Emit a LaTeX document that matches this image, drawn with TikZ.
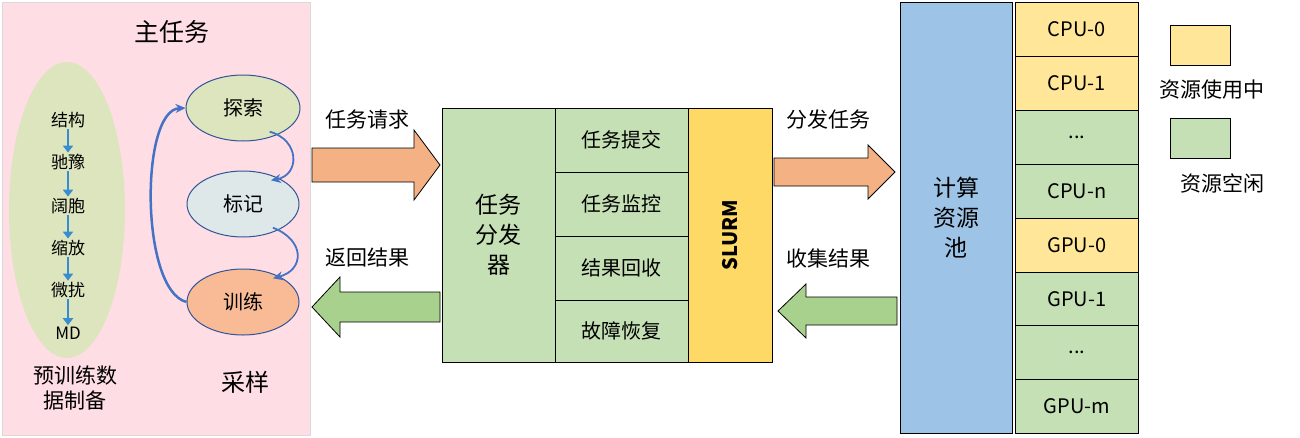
\documentclass[tikz,border=0pt]{standalone}
\usepackage{fontspec}
\setmainfont{Noto Sans CJK SC}
\usetikzlibrary{arrows.meta, positioning, shapes.geometric}
\definecolor{bgpink}{RGB}{255,221,228}
\definecolor{olive}{RGB}{221,229,190}
\definecolor{paleblue}{RGB}{222,232,232}
\definecolor{salmon}{RGB}{248,187,150}
\definecolor{boxgreen}{RGB}{197,224,180}
\definecolor{boxyellow}{RGB}{255,230,153}
\definecolor{slurmyellow}{RGB}{255,217,102}
\definecolor{poolblue}{RGB}{157,195,230}
\definecolor{navy}{RGB}{47,85,151}
\definecolor{arrblue}{RGB}{68,114,196}
\definecolor{orangearr}{RGB}{244,177,131}
\definecolor{greenarr}{RGB}{169,209,142}
\newcommand{\celldots}{...}

\begin{document}
\begin{tikzpicture}[x=1pt, y=-1pt,
    txt/.style={font=\fontsize{21}{25}\selectfont, align=center},
    small/.style={font=\fontsize{17}{20}\selectfont},
    oval/.style={ellipse, draw=navy, line width=1pt, minimum width=112pt, minimum height=66pt, font=\fontsize{20}{23}\selectfont},
    cell/.style={draw=black, line width=0.6pt, fill=boxgreen, minimum width=123pt, minimum height=53.9pt, font=\fontsize{20}{23}\selectfont},
    stage/.style={draw=black, line width=0.6pt, fill=boxgreen, minimum width=133pt, minimum height=63.5pt},
    flow/.style={-{Triangle[length=7pt,width=10pt]}, arrblue!80!cyan, line width=2pt},
    loop/.style={-{Stealth[length=10pt,width=9pt]}, arrblue, line width=1.8pt}]
    \useasboundingbox (0,0) rectangle (1300,437);

    % Main task panel
    \draw[gray!30, line width=1pt, fill=bgpink] (2,2) rectangle (310,435);
    \node[font=\fontsize{25}{29}\selectfont] (main) at (172,32) {主任务};

    % Pretraining data chain
    \node[ellipse, fill=olive, minimum width=116pt, minimum height=296pt] (prep) at (67,210) {};
    \node[small] (s1) at (68,120) {结构};
    \node[small] (s2) at (68,162) {驰豫};
    \node[small] (s3) at (68,206) {阔胞};
    \node[small] (s4) at (68,248) {缩放};
    \node[small] (s5) at (68,290) {微扰};
    \node[small] (s6) at (68,333) {MD};
    \foreach \a/\b in {s1/s2, s2/s3, s3/s4, s4/s5, s5/s6}
        \draw[flow] ([yshift=2pt]\a.south) -- ([yshift=-2pt]\b.north);
    \node[txt] (preplbl) at (75,388) {预训练数\\据制备};

    % Sampling loop
    \node[oval, fill=olive, minimum width=114pt] (explore) at (243,108) {探索};
    \node[oval, fill=paleblue] (label) at (243,204) {标记};
    \node[oval, fill=salmon] (train) at (243,302) {训练};
    \node[txt, font=\fontsize{24}{28}\selectfont] (sample) at (245,382) {采样};
    \draw[loop, line width=2.5pt] (train.west) .. controls (140,290) and (140,110) .. (explore.west);
    \draw[loop] ([xshift=-14pt]explore.south east) .. controls (300,140) and (300,175) .. ([xshift=-12pt]label.north east);
    \draw[loop] ([xshift=-10pt]label.south east) .. controls (305,240) and (305,270) .. ([xshift=-10pt]train.north east);

    % Dispatcher
    \node[draw=black, line width=0.6pt, fill=boxgreen, minimum width=113pt, minimum height=254pt, txt, font=\fontsize{23}{30}\selectfont] (disp) at (498.5,235) {任务\\分发\\器};
    \node[stage, anchor=north west] (submit) at (555,108) {};
    \node[stage, anchor=north west] (monitor) at (555,172) {};
    \node[stage, anchor=north west] (collect) at (555,236) {};
    \node[stage, anchor=north west, minimum height=62pt] (recover) at (555,300) {};
    \node[font=\fontsize{20}{23}\selectfont] at (621,140) {任务提交};
    \node[font=\fontsize{20}{23}\selectfont] at (621,204) {任务监控};
    \node[font=\fontsize{20}{23}\selectfont] at (621,268) {结果回收};
    \node[font=\fontsize{20}{23}\selectfont] at (621,331) {故障恢复};
    \node[draw=black, line width=0.6pt, fill=slurmyellow, minimum width=84pt, minimum height=254pt] (slurm) at (730,235) {};
    \node[rotate=90, font=\fontsize{20}{23}\selectfont\bfseries] at (730,235) {SLURM};

    % Block arrows
    \draw[black, line width=0.8pt, fill=orangearr] (312,148) -- (414,148) -- (414,130) -- (440,165) -- (414,200) -- (414,182) -- (312,182) -- cycle;
    \node[txt] (req) at (367,120) {任务请求};
    \draw[black, line width=0.8pt, fill=greenarr] (440,292) -- (340,292) -- (340,277) -- (312,307) -- (340,337) -- (340,322) -- (440,322) -- cycle;
    \node[txt] (ret) at (367,258) {返回结果};
    \draw[black, line width=0.8pt, fill=orangearr] (774,158) -- (868,158) -- (868,145) -- (895,172) -- (868,199) -- (868,186) -- (774,186) -- cycle;
    \node[txt] (dist) at (828,120) {分发任务};
    \draw[black, line width=0.8pt, fill=greenarr] (897,297) -- (806,297) -- (806,284) -- (778,311) -- (806,338) -- (806,325) -- (897,325) -- cycle;
    \node[txt] (gath) at (828,258) {收集结果};

    % Resource pool
    \node[draw=black, line width=0.6pt, fill=poolblue, minimum width=112pt, minimum height=431pt, txt, font=\fontsize{23}{30}\selectfont] (pool) at (956,217.5) {计算\\资源\\池};
    \foreach \lbl/\col [count=\i from 0] in {CPU-0/boxyellow, CPU-1/boxyellow, \celldots/boxgreen, CPU-n/boxgreen, GPU-0/boxyellow, GPU-1/boxgreen, \celldots/boxgreen, GPU-m/boxgreen}
        \node[cell, fill=\col, anchor=north west] (r\i) at (1015,2+53.9*\i) {\lbl};

    % Legend
    \node[draw=black, line width=0.6pt, fill=boxyellow, minimum width=60pt, minimum height=40pt] (busy) at (1200,45) {};
    \node[txt] (busylbl) at (1212,90) {资源使用中};
    \node[draw=black, line width=0.6pt, fill=boxgreen, minimum width=60pt, minimum height=40pt] (idle) at (1200,138) {};
    \node[txt] (idlelbl) at (1222,183) {资源空闲};
\end{tikzpicture}
\end{document}
